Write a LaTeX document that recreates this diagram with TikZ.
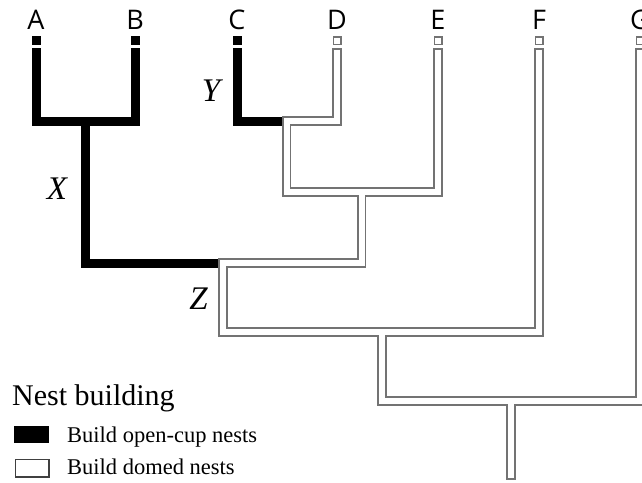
\documentclass[tikz,border=0pt]{standalone}
\usepackage{fontspec}
\setmainfont{Liberation Serif}
\newfontfamily\tipfont{Open Sans}
\definecolor{treegray}{gray}{0.45}

\begin{document}
\begin{tikzpicture}[x=1pt, y=-1pt,
  opencup/.style={line width=9pt, draw=black, line join=miter},
  domedout/.style={line width=9.5pt, draw=treegray, line join=miter},
  domedin/.style={line width=6pt, draw=white, line join=miter, shorten <=1.75pt, shorten >=1.75pt},
  tiplabel/.style={font=\tipfont\fontsize{27}{27}\selectfont, inner sep=0pt},
  cladelabel/.style={font=\itshape\fontsize{33}{33}\selectfont, inner sep=0pt},
  openbox/.style={fill=black, minimum size=9pt, inner sep=0pt},
  domedbox/.style={fill=white, draw=treegray, line width=1.5pt, minimum size=7.5pt, inner sep=0pt},
  keytext/.style={font=\fontsize{22.5}{22.5}\selectfont, anchor=base west, inner sep=0pt}]
  \useasboundingbox (0,0) rectangle (642,482);
  \clip (0,0) rectangle (642,482);

  % tips
  \foreach \n/\x in {a/36, b/135, c/237, d/337, e/438, f/539, g/640}
    \coordinate (\n) at (\x,48);
  \foreach \n/\t in {a/A, b/B, c/C, d/D, e/E, f/F, g/G}
    \node[tiplabel] (\n lab) at ([yshift=28pt]\n) {\t};
  \foreach \n in {a,b,c}
    \node[openbox] (\n box) at ([yshift=7.5pt]\n) {};
  \foreach \n in {d,e,f,g}
    \node[domedbox] (\n box) at ([yshift=7.5pt]\n) {};

  % forks
  \coordinate (nab) at (85.5,121);
  \coordinate (ncd) at (286.5,121);
  \coordinate (ncde) at (361.5,192);
  \coordinate (nx) at (223,263);
  \coordinate (nz) at (382,332);
  \coordinate (ng) at (511,401);
  \coordinate (root) at (511,480);

  % open-cup branches
  \draw[opencup] (a) |- (nab) -| (b);
  \draw[opencup] (nab) |- ([xshift=-4.5pt]nx);
  \draw[opencup] (c) |- ([xshift=-4.5pt]ncd);

  % domed branches
  \foreach \pass in {domedout, domedin} {
    \draw[\pass] (d) |- (ncd) |- (ncde) -| (e);
    \draw[\pass] (f) |- (nx |- nz) -- (nx) -| (ncde);
    \draw[\pass] (g) |- (ng) -| (nz);
    \draw[\pass] (ng) -- (root);
  }

  % clade labels
  \node[cladelabel] (labx) at (57,189) {X};
  \node[cladelabel] (laby) at (211,91) {Y};
  \node[cladelabel] (labz) at (198.5,299) {Z};

  % legend
  \node[anchor=base west, font=\fontsize{30}{30}\selectfont, inner sep=0pt] (legtitle) at (12,405) {Nest building};
  \node[openbox, minimum width=35pt, minimum height=17pt, anchor=north west] (keyopen) at (14,426) {};
  \node[fill=white, draw=black!75, line width=1.3pt, minimum width=33.7pt, minimum height=17.7pt, inner sep=0pt, anchor=north west] (keydomed) at (14.65,458.65) {};
  \node[keytext] (keyopentext) at (67,442) {Build open-cup nests};
  \node[keytext] (keydomedtext) at (67,474) {Build domed nests};
\end{tikzpicture}
\end{document}
